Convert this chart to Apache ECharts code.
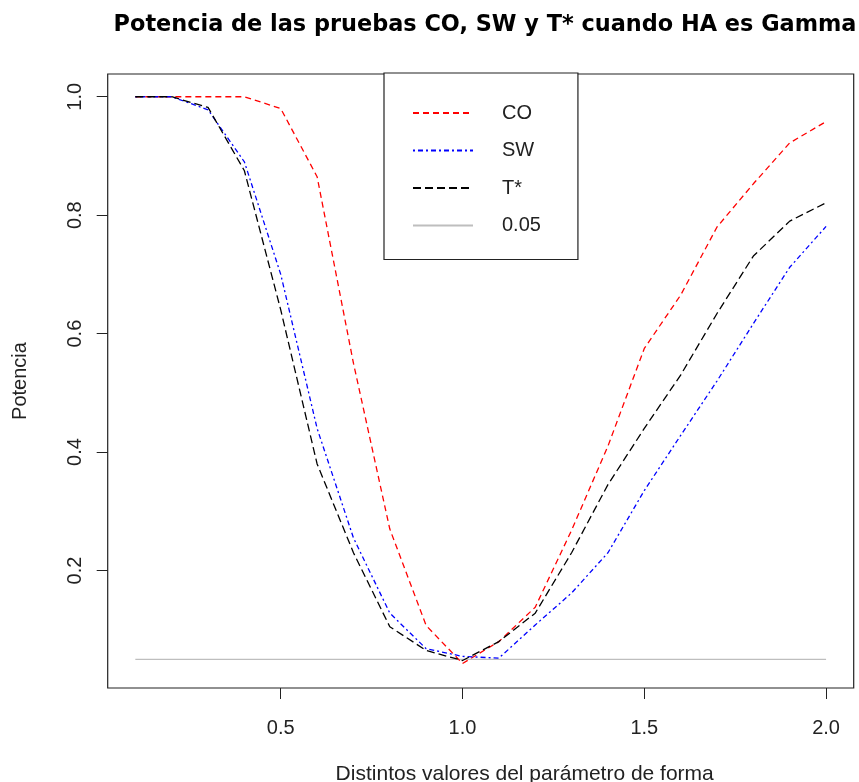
<!DOCTYPE html>
<html>
<head>
<meta charset="utf-8">
<title>Potencia de las pruebas CO, SW y T*</title>
<script src="https://cdn.jsdelivr.net/npm/echarts@6/dist/echarts.min.js"></script>
<style>
  html, body { margin: 0; padding: 0; background: #fff; }
  #chart { width: 859px; height: 782px; }
</style>
</head>
<body>
<div id="chart"></div>
<script>
// valores del parámetro de forma
const shapes = [0.1, 0.2, 0.3, 0.4, 0.5, 0.6, 0.7, 0.8, 0.9, 1.0,
                1.1, 1.2, 1.3, 1.4, 1.5, 1.6, 1.7, 1.8, 1.9, 2.0];
// potencia de cada prueba
const powerCO = [1.0, 1.0, 1.0, 1.0, 0.98, 0.865, 0.55, 0.27, 0.107, 0.043,
                 0.08, 0.138, 0.268, 0.41, 0.575, 0.665, 0.78, 0.853, 0.922, 0.958];
const powerSW = [1.0, 1.0, 0.978, 0.89, 0.70, 0.44, 0.255, 0.128, 0.068, 0.055,
                 0.052, 0.108, 0.162, 0.23, 0.335, 0.428, 0.52, 0.617, 0.712, 0.781];
const powerT = [1.0, 1.0, 0.982, 0.875, 0.64, 0.38, 0.23, 0.105, 0.065, 0.048,
                0.08, 0.128, 0.23, 0.345, 0.44, 0.53, 0.634, 0.731, 0.79, 0.821];
const refLevel = 0.05;
const xTicks = [0.5, 1.0, 1.5, 2.0];
const yTicks = [0.2, 0.4, 0.6, 0.8, 1.0];

const pairs = (vals) => shapes.map((x, i) => [x, vals[i]]);
const font = "Liberation Sans, Arial, sans-serif";

let chart = echarts.init(document.getElementById("chart"));
chart.setOption({
  animation: false,
  textStyle: { fontFamily: font },
  title: {
    text: "Potencia de las pruebas CO, SW y T* cuando HA es Gamma",
    left: 485,
    textAlign: "center",
    top: 14,
    padding: 0,
    textStyle: {
      fontFamily: "DejaVu Sans",
      fontWeight: "bold",
      fontSize: 22.4,
      color: "#000",
    },
  },
  grid: {
    left: 107.7,
    right: 5.3,
    top: 74,
    bottom: 94,
    containLabel: false,
    outerBoundsMode: "none",
    show: true,
    borderColor: "#222",
    borderWidth: 1.2,
  },
  legend: {
    orient: "vertical",
    left: 384,
    top: 73,
    padding: [30, 37, 24, 28],
    itemWidth: 60,
    itemHeight: 20,
    itemGap: 17.5,
    backgroundColor: "#fff",
    borderColor: "#222",
    borderWidth: 1.2,
    itemStyle: { opacity: 0 },
    textStyle: { fontSize: 20, color: "#222", padding: [0, 0, 0, 24] },
    data: ["CO", "SW", "T*", "0.05"],
  },
  xAxis: {
    type: "value",
    min: 0.024,
    max: 2.076,
    name: "Distintos valores del parámetro de forma",
    nameLocation: "middle",
    nameGap: 76,
    nameTextStyle: { fontSize: 21, color: "#222", padding: [0, 0, 0, 88] },
    axisLine: { show: false },
    axisTick: { length: 11, customValues: xTicks, lineStyle: { color: "#222" } },
    axisLabel: {
      customValues: xTicks,
      margin: 30,
      fontSize: 20,
      color: "#222",
      formatter: (v) => v.toFixed(1),
    },
    splitLine: { show: false },
  },
  yAxis: {
    type: "value",
    min: 0.0016,
    max: 1.0384,
    name: "Potencia",
    nameLocation: "middle",
    nameGap: 77,
    nameTextStyle: { fontSize: 20, color: "#222" },
    axisLine: { show: false },
    axisTick: { length: 11, customValues: yTicks, lineStyle: { color: "#222" } },
    axisLabel: {
      customValues: yTicks,
      rotate: 90,
      margin: 22.5,
      fontSize: 20,
      color: "#222",
      formatter: (v) => v.toFixed(1),
    },
    splitLine: { show: false },
  },
  series: [
    {
      name: "CO",
      type: "line",
      symbol: "none",
      data: pairs(powerCO),
      lineStyle: { color: "#ff0000", width: 1.3, type: [6, 4] },
      itemStyle: { color: "#ff0000" },
      z: 3,
    },
    {
      name: "SW",
      type: "line",
      symbol: "none",
      data: pairs(powerSW),
      lineStyle: { color: "#0000ff", width: 1.3, type: [2, 3, 5, 3] },
      itemStyle: { color: "#0000ff" },
      z: 3,
    },
    {
      name: "T*",
      type: "line",
      symbol: "none",
      data: pairs(powerT),
      lineStyle: { color: "#000", width: 1.3, type: [8, 4] },
      itemStyle: { color: "#000" },
      z: 4,
    },
    {
      name: "0.05",
      type: "line",
      symbol: "none",
      data: shapes.map((x) => [x, refLevel]),
      lineStyle: { color: "#bebebe", width: 1.3, type: "solid" },
      itemStyle: { color: "#bebebe" },
      z: 2,
    },
  ],
});
</script>
</body>
</html>
